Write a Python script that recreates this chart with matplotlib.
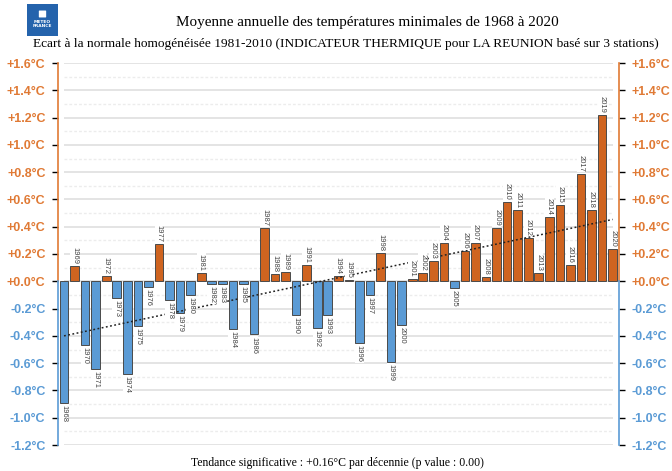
import matplotlib
matplotlib.use("Agg")
import matplotlib.pyplot as plt
import matplotlib.transforms as mtransforms
from matplotlib.patches import Rectangle, FancyBboxPatch
import numpy as np

# Annual minimum-temperature anomalies (deg C) vs 1981-2010 normal
years = list(range(1968, 2021))
anomalies = [
    -0.89, 0.11, -0.47, -0.64, 0.04, -0.12, -0.68, -0.33, -0.04, 0.27,
    -0.14, -0.23, -0.10, 0.06, -0.02, -0.02, -0.35, -0.02, -0.39, 0.39,
    0.05, 0.07, -0.25, 0.12, -0.34, -0.25, 0.04, 0.01, -0.45, -0.10,
    0.21, -0.59, -0.32, 0.02, 0.06, 0.15, 0.28, -0.05, 0.22, 0.28,
    0.03, 0.39, 0.58, 0.52, 0.32, 0.06, 0.47, 0.56, 0.12, 0.79,
    0.52, 1.22, 0.24,
]
tick_values = [-1.2, -1.0, -0.8, -0.6, -0.4, -0.2, 0.0, 0.2, 0.4, 0.6, 0.8, 1.0, 1.2, 1.4, 1.6]
tick_labels = ["-1.2°C", "-1.0°C", "-0.8°C", "-0.6°C", "-0.4°C", "-0.2°C", "+0.0°C",
               "+0.2°C", "+0.4°C", "+0.6°C", "+0.8°C", "+1.0°C", "+1.2°C", "+1.4°C", "+1.6°C"]

WARM = "#CF6420"
COLD = "#5B9BD5"
WARM_TXT = "#E07A35"
COLD_TXT = "#5B9BD5"

x = np.array(years)
y = np.array(anomalies)

fig = plt.figure(figsize=(6.72, 4.71), dpi=100)
ax = fig.add_axes([58 / 672, 1 - 445 / 471, (619 - 58) / 672, (445 - 63) / 471])
ax.set_xlim(1967.43, 2020.6)
ax.set_ylim(-1.2, 1.6)

# grid: solid on major steps, dotted half-way between
for v in np.arange(-1.2, 1.61, 0.2):
    ax.hlines(v, 1968, 2020, color="#e2e2e2", lw=1.3, zorder=0)
for v in np.arange(-1.1, 1.6, 0.2):
    ax.hlines(v, 1968, 2020, color="#ececec", lw=1.0, ls=(0, (2, 1.5)), zorder=0)

colors = [WARM if v >= 0 else COLD for v in y]
ax.bar(x, y, width=0.82, color=colors, edgecolor="#4a4a4a", lw=0.7, zorder=2)

# linear trend over the period
slope, intercept = np.polyfit(x, y, 1)
ax.plot([x[0], x[-1]], [intercept + slope * x[0], intercept + slope * x[-1]],
        color="#222222", lw=1.1, ls=(0, (1.2, 1.6)), zorder=3)

# year labels at the end of each bar
for yr, v in zip(years, anomalies):
    off = 0.015 if v >= 0 else -0.015
    ax.text(yr, v + off, str(yr), rotation=-90, fontsize=5.5, color="#444444",
            ha="center", va="bottom" if v >= 0 else "top", zorder=4,
            family="Liberation Sans",
            bbox=dict(facecolor="white", edgecolor="none", pad=0.6))

# colored spines: warm above zero, cold below
for s in ax.spines.values():
    s.set_visible(False)
trans = mtransforms.blended_transform_factory(ax.transAxes, ax.transData)
for xs in (0, 1):
    ax.plot([xs, xs], [0, 1.6], color=WARM_TXT, lw=1.2, transform=trans, clip_on=False)
    ax.plot([xs, xs], [-1.2, 0], color=COLD_TXT, lw=1.2, transform=trans, clip_on=False)

ax.set_xticks([])
ax.set_yticks(tick_values)
ax.set_yticklabels(tick_labels)
ax.tick_params(axis="y", left=True, right=True, labelleft=True, labelright=True,
               length=4, width=1, pad=5)
for t, v in zip(ax.yaxis.get_major_ticks(), tick_values):
    c = WARM_TXT if v >= 0 else COLD_TXT
    for item in (t.label1, t.label2):
        item.set_color(c)
        item.set_fontweight("bold")
        item.set_fontsize(9)
        item.set_family("Liberation Sans")
    t.tick1line.set_color(c)
    t.tick2line.set_color(c)

fig.text(0.547, 0.953, "Moyenne annuelle des températures minimales de 1968 à 2020",
         ha="center", va="center", fontsize=10.9, family="Liberation Serif")
fig.text(0.515, 0.907,
         "Ecart à la normale homogénéisée 1981-2010 (INDICATEUR THERMIQUE pour LA REUNION basé sur 3 stations)",
         ha="center", va="center", fontsize=9.6, family="Liberation Serif")
fig.text(0.502, 0.017, "Tendance significative : +0.16°C par décennie (p value : 0.00)",
         ha="center", va="center", fontsize=8.5, family="Liberation Serif")

# Meteo-France badge
fig.patches.append(Rectangle((27 / 672, 1 - 36 / 471), 31 / 672, 32 / 471,
                             transform=fig.transFigure, facecolor="#2463AC", edgecolor="none"))
fig.patches.append(FancyBboxPatch((39.5 / 672, 1 - 17 / 471), 6 / 672, 6 / 471,
                                  boxstyle="round,pad=0.001", transform=fig.transFigure,
                                  facecolor="white", edgecolor="none"))
fig.text(42.5 / 672, 1 - 24 / 471, "METEO\nFRANCE", ha="center", va="center",
         fontsize=3.2, color="white", fontweight="bold", linespacing=1.0)

fig.savefig("out.png", dpi=100)
